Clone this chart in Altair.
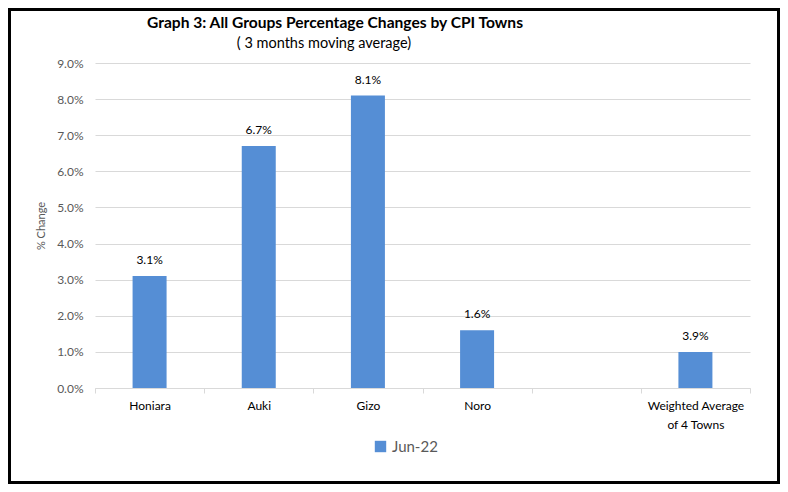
import altair as alt
import pandas as pd

towns = ["Honiara", "Auki", "Gizo", "Noro", " ", "Weighted Average\nof 4 Towns"]
values = [3.1, 6.7, 8.1, 1.6, None, 1.0]
labels = ["3.1%", "6.7%", "8.1%", "1.6%", "", "3.9%"]
series = ["Jun-22"] * 6
title_text = "Graph 3: All Groups Percentage Changes by CPI Towns"
subtitle_text = "( 3 months moving average)"

df = pd.DataFrame({"town": towns, "value": values, "label": labels, "series": series})
df_bars = df.dropna()

W, H = 655, 325
PAD = {"left": 87, "top": 55, "right": 30, "bottom": 96}
FONT = "Lato"
BLUE = "#558ED5"

x_enc = alt.X(
    "town:N",
    sort=towns,
    scale=alt.Scale(domain=towns, paddingInner=0, paddingOuter=0),
    axis=alt.Axis(
        title=None,
        labelAngle=0,
        tickBand="extent",
        grid=False,
        domainColor="#d9d9d9",
        tickColor="#d9d9d9",
        tickSize=5,
        labelPadding=7,
        labelFont=FONT,
        labelFontSize=12,
        labelColor="#000000",
        labelExpr="split(datum.label, '\\n')",
        labelLineHeight=19,
    ),
)

y_enc = alt.Y(
    "value:Q",
    scale=alt.Scale(domain=[0, 9], nice=False),
    axis=alt.Axis(
        title="% Change",
        values=[0, 1, 2, 3, 4, 5, 6, 7, 8, 9],
        labelExpr="format(datum.value, '.1f') + '%'",
        labelOverlap=False,
        ticks=False,
        domain=False,
        gridColor="#d9d9d9",
        labelPadding=12,
        labelFont=FONT,
        labelFontSize=12,
        labelColor="#595959",
        titleFont=FONT,
        titleFontSize=11,
        titleFontWeight="normal",
        titleColor="#595959",
        titlePadding=10,
    ),
)

bars = alt.Chart(df_bars).mark_bar(size=34).encode(
    x=x_enc,
    y=y_enc,
    color=alt.Color(
        "series:N",
        scale=alt.Scale(range=[BLUE]),
        legend=alt.Legend(
            title=None,
            orient="none",
            legendX=278,
            legendY=376,
            symbolType="square",
            symbolSize=130,
            symbolStrokeWidth=0,
            labelFont=FONT,
            labelFontSize=15,
            labelColor="#595959",
            labelOffset=4,
        ),
    ),
)

text = alt.Chart(df_bars).mark_text(
    baseline="bottom", dy=-9, font=FONT, fontSize=12, color="#000000"
).encode(
    x=x_enc,
    y=y_enc,
    text="label:N",
)

title = alt.Chart(alt.Data(values=[{"t": title_text}])).mark_text(
    font=FONT, fontSize=15.6, fontWeight="bold", color="#000000",
    align="center", baseline="alphabetic", clip=False
).encode(
    x=alt.value(240),
    y=alt.value(-35),
    text="t:N",
)

subtitle = alt.Chart(alt.Data(values=[{"t": subtitle_text}])).mark_text(
    font=FONT, fontSize=14.5, color="#000000",
    align="center", baseline="alphabetic", clip=False
).encode(
    x=alt.value(229),
    y=alt.value(-15),
    text="t:N",
)

frame = alt.Chart(alt.Data(values=[{}])).mark_rect(
    fill=None, stroke="#000000", strokeWidth=3, clip=False
).encode(
    x=alt.value(-PAD["left"] + 1.5),
    x2=alt.value(W + PAD["right"] - 1.5),
    y=alt.value(-PAD["top"] + 1.5),
    y2=alt.value(H + PAD["bottom"] - 1.5),
)

chart = (
    alt.layer(bars, text, title, subtitle, frame)
    .properties(
        width=W,
        height=H,
        padding=PAD,
        background="white",
        autosize=alt.AutoSizeParams(type="none"),
    )
    .configure_view(stroke=None, strokeWidth=0)
    .configure_axisX(grid=False)
)

chart.save("out.html", embed_options={"renderer": "svg", "actions": False})
